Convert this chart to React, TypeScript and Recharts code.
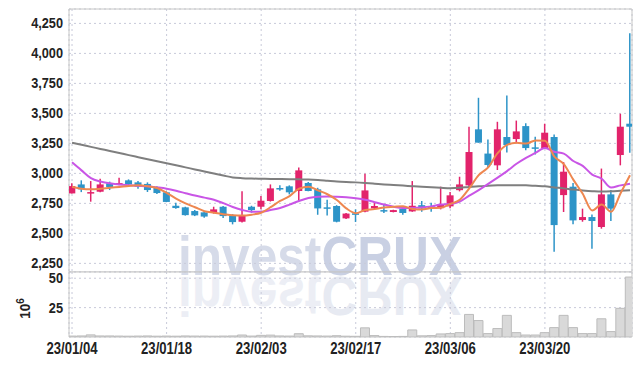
import React from 'react';
import { ComposedChart, Bar, Line, XAxis, YAxis, CartesianGrid, ReferenceArea, Label } from 'recharts';

// trading days 23/01/04 .. 23/03/31
const dates = [
  '23/01/04', '23/01/05', '23/01/06', '23/01/09', '23/01/10', '23/01/11', '23/01/12', '23/01/13', '23/01/16', '23/01/17',
  '23/01/18', '23/01/19', '23/01/20', '23/01/25', '23/01/26', '23/01/27', '23/01/30', '23/01/31', '23/02/01', '23/02/02',
  '23/02/03', '23/02/06', '23/02/07', '23/02/08', '23/02/09', '23/02/10', '23/02/13', '23/02/14', '23/02/15', '23/02/16',
  '23/02/17', '23/02/20', '23/02/21', '23/02/22', '23/02/23', '23/02/24', '23/02/27', '23/02/28', '23/03/02', '23/03/03',
  '23/03/06', '23/03/07', '23/03/08', '23/03/09', '23/03/10', '23/03/13', '23/03/14', '23/03/15', '23/03/16', '23/03/17',
  '23/03/20', '23/03/21', '23/03/22', '23/03/23', '23/03/24', '23/03/27', '23/03/28', '23/03/29', '23/03/30', '23/03/31',
];

const open = [
  2833, 2908, 2836, 2847, 2917, 2911, 2942, 2925, 2912, 2878,
  2842, 2730, 2717, 2686, 2675, 2670, 2722, 2650, 2597, 2722,
  2722, 2770, 2878, 2892, 2853, 2920, 2867, 2717, 2728, 2625,
  2667, 2681, 2708, 2694, 2678, 2706, 2683, 2735, 2728, 2710,
  2725, 2860, 2900, 3367, 3165, 3067, 3303, 3286, 3394, 3217,
  3210, 3303, 2819, 2889, 2611, 2636, 2553, 2825, 3153, 3414,
];
const high = [
  2917, 2942, 2936, 2956, 2931, 2964, 2950, 2936, 2925, 2892,
  2850, 2756, 2722, 2695, 2683, 2722, 2728, 2660, 2850, 2730,
  2811, 2908, 2900, 2900, 3050, 2928, 2880, 2780, 2735, 2670,
  2700, 2997, 2760, 2740, 2697, 2720, 2936, 2770, 2755, 2889,
  2844, 2972, 3389, 3630, 3283, 3430, 3650, 3440, 3417, 3306,
  3414, 3325, 3094, 2920, 2706, 2658, 3040, 2861, 3497, 4167,
];
const low = [
  2833, 2844, 2764, 2842, 2861, 2900, 2900, 2872, 2845, 2828,
  2760, 2706, 2648, 2644, 2630, 2665, 2628, 2575, 2590, 2672,
  2700, 2765, 2855, 2825, 2770, 2850, 2655, 2648, 2592, 2620,
  2595, 2675, 2700, 2670, 2675, 2655, 2680, 2680, 2680, 2700,
  2710, 2850, 2880, 3256, 3050, 3028, 3175, 3250, 3192, 3158,
  3205, 2347, 2678, 2575, 2597, 2372, 2539, 2603, 3067, 3172,
];
const close = [
  2894, 2867, 2844, 2908, 2886, 2919, 2908, 2889, 2861, 2836,
  2762, 2711, 2652, 2650, 2640, 2700, 2644, 2594, 2650, 2694,
  2772, 2875, 2867, 2842, 3025, 2853, 2708, 2706, 2597, 2665,
  2655, 2858, 2728, 2686, 2694, 2670, 2730, 2708, 2710, 2740,
  2817, 2908, 3178, 3256, 3070, 3367, 3236, 3350, 3211, 3206,
  3339, 2569, 3014, 2608, 2636, 2603, 2825, 2706, 3389, 3389,
];
// volume, 10^6 shares
const volume = [
  0.8, 0.9, 1.8, 0.9, 0.9, 0.8, 0.7, 0.8, 0.9, 0.7,
  0.8, 0.7, 0.9, 0.8, 0.8, 0.7, 0.8, 0.9, 1.7, 0.8,
  1.4, 1.6, 0.9, 0.8, 2.8, 1.0, 0.9, 0.8, 1.1, 0.7,
  0.6, 7.8, 1.2, 0.5, 0.4, 0.5, 6.0, 1.0, 1.2, 2.6,
  2.9, 3.7, 19.2, 14.0, 2.9, 7.2, 18.4, 3.7, 1.7, 1.7,
  3.7, 8.0, 18.4, 8.0, 2.9, 2.9, 15.5, 4.6, 24.4, 51,
];
const ma5 = [
  2889, 2872, 2867, 2872, 2880, 2887, 2895, 2900, 2893, 2878,
  2838, 2790, 2750, 2718, 2685, 2672, 2660, 2650, 2648, 2656,
  2672, 2718, 2770, 2810, 2872, 2888, 2858, 2826, 2778, 2708,
  2668, 2695, 2702, 2716, 2722, 2727, 2703, 2698, 2711, 2713,
  2745, 2780, 2875, 2985, 3050, 3168, 3238, 3255, 3248, 3275,
  3272, 3140, 3078, 2948, 2830, 2690, 2740, 2680, 2835, 2985,
];
const ma20 = [
  3092, 3025, 2960, 2932, 2918, 2908, 2902, 2897, 2892, 2883,
  2872, 2855, 2835, 2815, 2798, 2780, 2752, 2720, 2695, 2680,
  2680, 2695, 2712, 2740, 2770, 2795, 2806, 2808, 2805, 2800,
  2792, 2780, 2760, 2740, 2722, 2712, 2712, 2716, 2725, 2740,
  2745, 2765, 2815, 2860, 2912, 2965, 3019, 3080, 3130, 3170,
  3212, 3180, 3165, 3103, 3062, 2990, 2955, 2882, 2900, 2914,
];
const ma60 = [
  3255, 3238, 3221, 3204, 3187, 3170, 3152, 3135, 3118, 3101,
  3084, 3067, 3050, 3033, 3016, 2999, 2982, 2966, 2960, 2957,
  2955, 2954, 2953, 2952, 2950, 2948, 2944, 2938, 2932, 2928,
  2925, 2920, 2914, 2908, 2903, 2898, 2893, 2888, 2884, 2880,
  2877, 2880, 2887, 2892, 2897, 2900, 2902, 2902, 2900, 2896,
  2892, 2883, 2875, 2865, 2858, 2852, 2848, 2850, 2855, 2860,
];

const priceTicks = [2250, 2500, 2750, 3000, 3250, 3500, 3750, 4000, 4250];
const volTicks = [25, 50];
const dateTicks = [0, 10, 20, 30, 40, 50];

const rows = dates.map((d, i) => ({
  i,
  date: d,
  open: open[i],
  high: high[i],
  low: low[i],
  close: close[i],
  range: [low[i], high[i]],
  vol: volume[i],
  ma5: ma5[i],
  ma20: ma20[i],
  ma60: ma60[i],
}));

const RED = '#e2236b';
const BLUE = '#2d94c8';
const GRID = '#c8cad9';
const FRAME = '#c6c6c6';
const FONT = "'Liberation Sans', Arial, sans-serif";
const X_DOMAIN: [number, number] = [-0.32, 59.21];
const VOL_TOP = 16; // extra room above the volume panel so its top label is not clipped

const Candle = (props: any) => {
  const { x, y, width, height, payload } = props;
  if (x == null || y == null) return null;
  const up = payload.close >= payload.open;
  const color = up ? RED : BLUE;
  const top = Math.min(y, y + height);
  const h = Math.abs(height);
  const k = h / (payload.high - payload.low || 1);
  const yOf = (v: number) => top + (payload.high - v) * k;
  const cx = x + width / 2;
  const bTop = yOf(Math.max(payload.open, payload.close));
  const bH = Math.max(1.5, Math.abs(yOf(payload.open) - yOf(payload.close)));
  return (
    <g>
      <line x1={cx} x2={cx} y1={top} y2={top + h} stroke={color} strokeWidth={1.5} />
      <rect x={cx - 3.5} y={bTop} width={7} height={bH} fill={color} />
    </g>
  );
};

// narrow, bold tick labels (the original uses a condensed face)
const YTick = (props: any) => {
  const { x, y, payload, fmt } = props;
  const txt = fmt ? fmt(payload.value) : String(payload.value);
  return (
    <text transform={`translate(${x},${y}) scale(0.91,1)`} textAnchor="end" dy="0.36em" fontFamily={FONT} fontWeight={700} fontSize={14} fill="#222">
      {txt}
    </text>
  );
};

const XTick = (props: any) => {
  const { x, y, payload } = props;
  return (
    <text transform={`translate(${x},${y}) scale(0.82,1)`} textAnchor="middle" dy="0.72em" fontFamily={FONT} fontWeight={700} fontSize={16} fill="#222">
      {dates[payload.value] || ''}
    </text>
  );
};

const VolLabel = (props: any) => {
  const vb = props.viewBox || {};
  const cx = 30;
  const cy = (vb.y || 0) + (vb.height || 0) / 2 + 4;
  return (
    <text transform={`translate(${cx},${cy}) rotate(-90) scale(0.9,1)`} textAnchor="middle" fontFamily={FONT} fontWeight={700} fontSize={15} fill="#222">
      10<tspan dy={-6} fontSize={11}>6</tspan>
    </text>
  );
};

const Watermark = () => (
  <svg width={642} height={366} style={{ position: 'absolute', left: 0, top: 0 }}>
    <g opacity={0.45} transform="translate(0 552) scale(1 -1)">
      <text x={178} y={275} fontFamily={FONT} fontWeight={700} fontSize={56} textLength={284} lengthAdjust="spacingAndGlyphs">
        <tspan fill="#d6dbe9">invest</tspan>
        <tspan fill="#cbd2e4">CRUX</tspan>
      </text>
    </g>
    <text x={178} y={275} fontFamily={FONT} fontWeight={700} fontSize={56} textLength={284} lengthAdjust="spacingAndGlyphs">
      <tspan fill="#d6dbe9">invest</tspan>
      <tspan fill="#c9d0e3">CRUX</tspan>
    </text>
  </svg>
);

const fmtPrice = (v: number) => v.toLocaleString('en-US');

export default function App() {
  return (
    <div style={{ position: 'absolute', left: 0, top: 0, width: 642, height: 366, background: '#fff' }}>
      <Watermark />
      <ComposedChart width={642} height={272} data={rows} margin={{ top: 9, right: 10, bottom: 0, left: 0 }}>
        <CartesianGrid stroke={GRID} strokeDasharray="2 3" />
        <XAxis dataKey="i" type="number" domain={X_DOMAIN} ticks={dateTicks} hide allowDataOverflow />
        <YAxis
          type="number"
          domain={[2178, 4370]}
          ticks={priceTicks}
          interval={0}
          allowDataOverflow
          width={69}
          axisLine={false}
          tickLine={false}
          tickSize={0}
          tickMargin={6}
          tick={<YTick fmt={fmtPrice} />}
        />
        <ReferenceArea x1={X_DOMAIN[0]} x2={X_DOMAIN[1]} y1={2178} y2={4370} fill="none" stroke={FRAME} strokeWidth={1} ifOverflow="visible" />
        <Bar dataKey="range" barSize={7} shape={Candle} isAnimationActive={false} />
        <Line type="monotone" dataKey="ma60" stroke="#7f7f7f" strokeWidth={2} dot={false} activeDot={false} isAnimationActive={false} />
        <Line type="monotone" dataKey="ma20" stroke="#c955e6" strokeWidth={2} dot={false} activeDot={false} isAnimationActive={false} />
        <Line type="monotone" dataKey="ma5" stroke="#ee8750" strokeWidth={2} dot={false} activeDot={false} isAnimationActive={false} />
      </ComposedChart>
      <div style={{ position: 'relative', marginTop: -VOL_TOP }}>
        <ComposedChart width={642} height={94 + VOL_TOP} data={rows} margin={{ top: VOL_TOP, right: 10, bottom: 0, left: 0 }}>
          <CartesianGrid stroke={GRID} strokeDasharray="2 3" />
          <XAxis
            dataKey="i"
            type="number"
            domain={X_DOMAIN}
            ticks={dateTicks}
            interval={0}
            allowDataOverflow
            height={29}
            axisLine={false}
            tickLine={false}
            tickSize={0}
            tickMargin={5}
            tick={<XTick />}
          />
          <YAxis
            type="number"
            domain={[0, 55.3]}
            ticks={volTicks}
            interval={0}
            allowDataOverflow
            width={69}
            axisLine={false}
            tickLine={false}
            tickSize={0}
            tickMargin={6}
            tick={<YTick />}
          >
            <Label content={<VolLabel />} />
          </YAxis>
          <ReferenceArea x1={X_DOMAIN[0]} x2={X_DOMAIN[1]} y1={0} y2={55.3} fill="none" stroke={FRAME} strokeWidth={1} ifOverflow="visible" />
          <Bar dataKey="vol" barSize={9} fill="#d9d9d9" stroke="#bcbcbc" strokeWidth={1} isAnimationActive={false} />
        </ComposedChart>
      </div>
    </div>
  );
}
